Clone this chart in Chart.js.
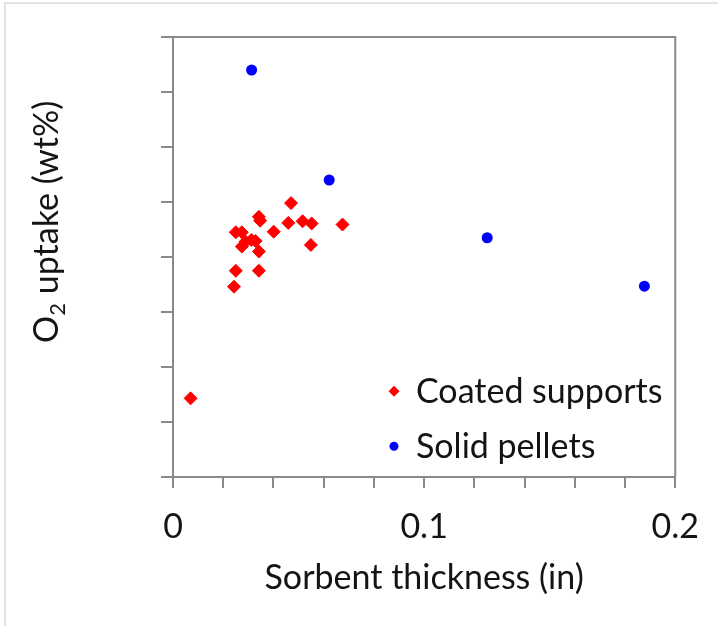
<!DOCTYPE html>
<html>
<head>
<meta charset="utf-8">
<script src="https://cdn.jsdelivr.net/npm/chart.js@4.4.0/dist/chart.umd.min.js"></script>
<style>
  html, body { margin: 0; padding: 0; background: #fff; }
  #wrap { position: relative; width: 718px; height: 626px; }
  #frame { position: absolute; left: 4px; top: 2px; right: 0; bottom: 0;
           border-left: 2px solid #e3e3e3; border-top: 2px solid #e3e3e3; pointer-events: none; }
</style>
</head>
<body>
<div id="wrap">
  <canvas id="chart" width="718" height="626"></canvas>
  <div id="frame"></div>
</div>
<script>
// sorbent thickness (in) vs O2 uptake, arbitrary y units (axis is unlabelled)
const coatedX = [0.0070, 0.0243, 0.0250, 0.0342, 0.0342, 0.0274, 0.0289, 0.0329, 0.0312,
                 0.0250, 0.0274, 0.0401, 0.0342, 0.0347, 0.0459, 0.0516, 0.0552, 0.0549,
                 0.0470, 0.0675];
const coatedY = [1.43, 3.46, 3.75, 3.75, 4.10, 4.19, 4.28, 4.29, 4.31,
                 4.45, 4.45, 4.46, 4.73, 4.66, 4.62, 4.65, 4.61, 4.22,
                 4.98, 4.59];
const pelletX = [0.0313, 0.0622, 0.1251, 0.1877];
const pelletY = [7.40, 5.40, 4.35, 3.47];

const seriesNames = ['Coated supports', 'Solid pellets'];
const xTickLabels = ['0', '0.1', '0.2'];
const xTitle = 'Sorbent thickness (in)';
const yTitleParts = ['O', '2', ' uptake (wt%)'];

const AXIS = '#8a8a8a';
const TEXT = '#141414';
const FONT = 'Lato';
const SIZE = 34;

const toPoints = (xs, ys) => xs.map((x, i) => ({ x: x, y: ys[i] }));

// top and right edges of the plot box
const boxPlugin = {
  id: 'boxLines',
  afterDraw(chart) {
    const { ctx, chartArea: a } = chart;
    ctx.save();
    ctx.strokeStyle = AXIS;
    ctx.lineWidth = 2;
    ctx.beginPath();
    ctx.moveTo(a.left, a.top);
    ctx.lineTo(a.right, a.top);
    ctx.lineTo(a.right, a.bottom);
    ctx.stroke();
    ctx.restore();
  }
};

// rotated y title with a subscript 2
const yTitlePlugin = {
  id: 'yTitle',
  afterDraw(chart) {
    const { ctx, chartArea: a } = chart;
    const big = SIZE + 'px ' + FONT, small = '22px ' + FONT;
    ctx.save();
    ctx.fillStyle = TEXT;
    ctx.textBaseline = 'alphabetic';
    ctx.font = big;
    const w0 = ctx.measureText(yTitleParts[0]).width;
    const w2 = ctx.measureText(yTitleParts[2]).width;
    ctx.font = small;
    const w1 = ctx.measureText(yTitleParts[1]).width;
    const total = w0 + w1 + w2;
    ctx.translate(58, a.top + a.height * 0.42);
    ctx.rotate(-Math.PI / 2);
    let u = -total / 2;
    ctx.font = big;
    ctx.fillText(yTitleParts[0], u, 0);
    u += w0;
    ctx.font = small;
    ctx.fillText(yTitleParts[1], u, 7);
    u += w1;
    ctx.font = big;
    ctx.fillText(yTitleParts[2], u, 0);
    ctx.restore();
  }
};

// legend placed inside the plot, lower right
const legendPlugin = {
  id: 'innerLegend',
  afterDraw(chart) {
    const { ctx, chartArea: a } = chart;
    const mx = a.left + a.width * 0.44;
    const tx = mx + 22;
    const rows = [a.top + a.height * 0.805, a.top + a.height * 0.93];
    ctx.save();
    ctx.font = SIZE + 'px ' + FONT;
    ctx.textBaseline = 'middle';
    chart.data.datasets.forEach((ds, i) => {
      const y = rows[i];
      ctx.fillStyle = ds.backgroundColor;
      ctx.beginPath();
      if (ds.pointStyle === 'rectRot') {
        ctx.moveTo(mx - 5.5, y); ctx.lineTo(mx, y - 5.5);
        ctx.lineTo(mx + 5.5, y); ctx.lineTo(mx, y + 5.5);
        ctx.closePath();
      } else {
        ctx.arc(mx, y, 4.5, 0, Math.PI * 2);
      }
      ctx.fill();
      ctx.fillStyle = TEXT;
      ctx.fillText(ds.label, tx, y + 1);
    });
    ctx.restore();
  }
};

new Chart(document.getElementById('chart'), {
  type: 'scatter',
  data: {
    datasets: [
      {
        label: seriesNames[0],
        data: toPoints(coatedX, coatedY),
        backgroundColor: '#ff0000',
        borderColor: '#ff0000',
        borderWidth: 1,
        pointStyle: 'rectRot',
        pointRadius: 6.5
      },
      {
        label: seriesNames[1],
        data: toPoints(pelletX, pelletY),
        backgroundColor: '#0000ff',
        borderColor: '#0000ff',
        borderWidth: 0,
        pointStyle: 'circle',
        pointRadius: 5.5
      }
    ]
  },
  options: {
    responsive: false,
    animation: false,
    layout: { padding: { top: 37, right: 40, left: 0, bottom: 0 } },
    plugins: {
      legend: { display: false },
      tooltip: { enabled: false }
    },
    scales: {
      x: {
        type: 'linear',
        min: 0,
        max: 0.2,
        afterFit: (s) => { s.height = 149; },
        border: { color: AXIS, width: 2 },
        grid: { drawOnChartArea: false, color: AXIS, lineWidth: 2, tickLength: 11 },
        ticks: {
          stepSize: 0.02,
          autoSkip: false,
          maxRotation: 0,
          padding: 19,
          color: TEXT,
          font: { family: FONT, size: SIZE },
          callback: (v) => {
            const i = Math.round(v / 0.1);
            return Math.abs(v - i * 0.1) < 1e-9 ? xTickLabels[i] : '';
          }
        },
        title: {
          display: true,
          text: xTitle,
          color: TEXT,
          font: { family: FONT, size: SIZE },
          padding: { top: 0, bottom: 28 }
        }
      },
      y: {
        type: 'linear',
        min: 0,
        max: 8,
        afterFit: (s) => { s.width = 173; },
        border: { color: AXIS, width: 2 },
        grid: { drawOnChartArea: false, color: AXIS, lineWidth: 2, tickLength: 12 },
        ticks: { stepSize: 1, display: false }
      }
    }
  },
  plugins: [boxPlugin, yTitlePlugin, legendPlugin]
});
</script>
</body>
</html>
